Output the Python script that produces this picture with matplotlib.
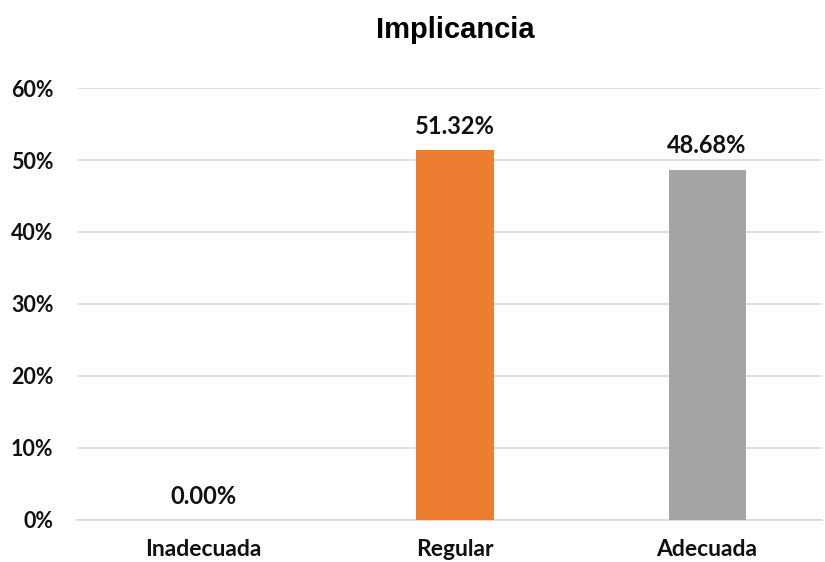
import matplotlib.pyplot as plt
from matplotlib.ticker import PercentFormatter

categorias = ['Inadecuada', 'Regular', 'Adecuada']
porcentajes = [0.00, 51.32, 48.68]
colores = ['#4472C4', '#ED7D31', '#A5A5A5']

fig = plt.figure(figsize=(8.25, 5.62), dpi=100)
ax = fig.add_axes([77 / 825, 42 / 562, 745 / 825, 432 / 562])

x = range(len(categorias))
barras = ax.bar(x, porcentajes, width=0.306, color=colores, zorder=3)

# etiquetas de valor encima de cada barra
for b, v in zip(barras, porcentajes):
    ax.annotate(f'{v:.2f}%', (b.get_x() + b.get_width() / 2, v),
                xytext=(0, 9), textcoords='offset points',
                ha='center', va='bottom', fontsize=17, fontweight='bold',
                family='Lato', color='#111111')

ax.set_ylim(0, 60)
ax.set_xlim(-0.5, 2.456)
ax.set_yticks(range(0, 61, 10))
ax.yaxis.set_major_formatter(PercentFormatter(decimals=0))
ax.set_xticks(list(x))
ax.set_xticklabels(categorias)

ax.grid(axis='y', color='#D9D9D9', linewidth=1.2, zorder=0)
for s in ['top', 'right', 'left']:
    ax.spines[s].set_visible(False)
ax.spines['bottom'].set_color('#D9D9D9')
ax.spines['bottom'].set_linewidth(1.2)
ax.tick_params(length=0)
ax.tick_params(axis='y', pad=17)
ax.tick_params(axis='x', pad=14)

for t in ax.get_yticklabels():
    t.set_fontfamily('Lato')
    t.set_fontweight('bold')
    t.set_fontsize(15.5)
    t.set_color('#111111')
for t in ax.get_xticklabels():
    t.set_fontfamily('Lato')
    t.set_fontweight('bold')
    t.set_fontsize(16.5)
    t.set_color('#111111')

fig.text(455 / 825, 1 - 30 / 562, 'Implicancia', ha='center', va='center',
         fontsize=21, fontweight='bold', family='Liberation Sans')

fig.savefig('out.png', dpi=100)
